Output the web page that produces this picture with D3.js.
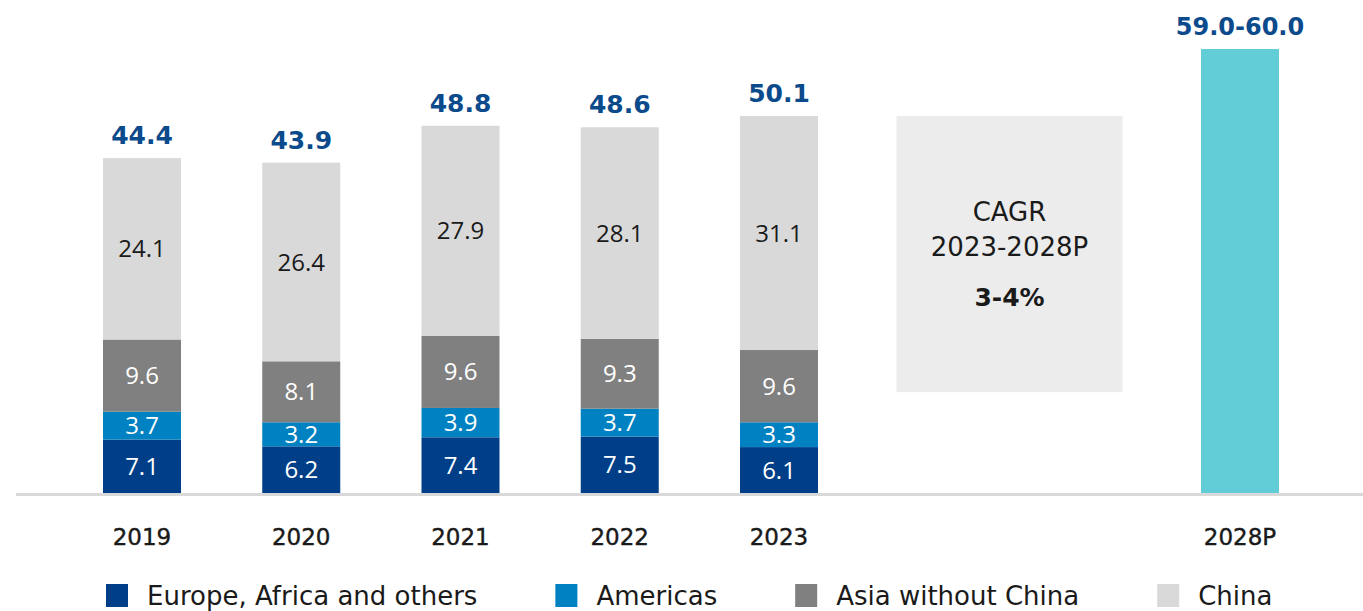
<!DOCTYPE html>
<html>
<head>
<meta charset="utf-8">
<script src="https://cdn.jsdelivr.net/npm/d3@7"></script>
<style>
  html, body { margin: 0; padding: 0; background: #ffffff; }
  svg { display: block; }
</style>
</head>
<body>
<svg id="chart" width="1363" height="611"></svg>
<script>
// ---------------- DATA ----------------
const years = ["2019", "2020", "2021", "2022", "2023"];
const seriesNames = ["Europe, Africa and others", "Americas", "Asia without China", "China"];
const europe   = [7.1, 6.2, 7.4, 7.5, 6.1];
const americas = [3.7, 3.2, 3.9, 3.7, 3.3];
const asia     = [9.6, 8.1, 9.6, 9.3, 9.6];
const china    = [24.1, 26.4, 27.9, 28.1, 31.1];
const totals   = ["44.4", "43.9", "48.8", "48.6", "50.1"];
const forecastCategory = "2028P";
const forecastValue = 59.0;
const forecastLabel = "59.0-60.0";
const cagrLines = ["CAGR", "2023-2028P"];
const cagrValue = "3-4%";
const futureSlots = ["2023", "CAGR", "2028P"];

// ---------------- STYLE ----------------
const colors = ["#003F88", "#0081C1", "#808080", "#D9D9D9"];
const forecastColor = "#62CDD6";
const totalColor = "#0B4A8B";
const textDark = "#1A1A1A";
const boxColor = "#ECECEC";
const axisColor = "#D9D9D9";
const fontA = "'DejaVu Sans', sans-serif";
const fontB = "'Open Sans', sans-serif";

const svg = d3.select("#chart");
const W = 1363;
const baseline = 493;

const xHist = d3.scalePoint().domain(years).range([142, 779]);
const xFut = d3.scalePoint().domain(futureSlots).range([779, 1240]);
const x = k => (years.includes(k) ? xHist(k) : xFut(k));
const y = d3.scaleLinear().domain([0, 59]).range([baseline, 49]);
const barW = 78;

// stacked data
const table = years.map((yr, i) => ({
  year: yr,
  [seriesNames[0]]: europe[i],
  [seriesNames[1]]: americas[i],
  [seriesNames[2]]: asia[i],
  [seriesNames[3]]: china[i],
  total: totals[i]
}));
const stack = d3.stack().keys(seriesNames)(table);

// CAGR box (behind)
const boxCx = x("CAGR");
const boxW = 226;
svg.append("rect")
  .attr("x", boxCx - boxW / 2)
  .attr("y", y(50.1))
  .attr("width", boxW)
  .attr("height", y(13.4) - y(50.1))
  .attr("fill", boxColor);

svg.append("text").attr("x", boxCx).attr("y", 221).attr("text-anchor", "middle")
  .attr("font-family", fontA).attr("font-size", 26).attr("fill", textDark).text(cagrLines[0]);
svg.append("text").attr("x", boxCx).attr("y", 256).attr("text-anchor", "middle")
  .attr("font-family", fontA).attr("font-size", 26).attr("fill", textDark).text(cagrLines[1]);
svg.append("text").attr("x", boxCx).attr("y", 306).attr("text-anchor", "middle")
  .attr("font-family", fontA).attr("font-weight", "bold").attr("font-size", 25).attr("fill", textDark).text(cagrValue);

// stacked bars
stack.forEach((layer, li) => {
  const g = svg.append("g");
  g.selectAll("rect").data(layer).enter().append("rect")
    .attr("x", d => x(d.data.year) - barW / 2)
    .attr("y", d => y(d[1]))
    .attr("width", barW)
    .attr("height", d => y(d[0]) - y(d[1]))
    .attr("fill", colors[li]);
  g.selectAll("text").data(layer).enter().append("text")
    .attr("x", d => x(d.data.year))
    .attr("y", d => (y(d[0]) + y(d[1])) / 2)
    .attr("dy", "0.36em")
    .attr("text-anchor", "middle")
    .attr("font-family", fontB)
    .attr("font-size", 24)
    .attr("fill", li === 3 ? textDark : "#FFFFFF")
    .text(d => (d[1] - d[0]).toFixed(1));
});

// totals
svg.append("g").selectAll("text").data(table).enter().append("text")
  .attr("x", d => x(d.year))
  .attr("y", d => y(d3.sum(seriesNames, k => d[k])) - 14)
  .attr("text-anchor", "middle")
  .attr("font-family", fontA)
  .attr("font-weight", "bold")
  .attr("font-size", 25)
  .attr("fill", totalColor)
  .text(d => d.total);

// forecast bar
svg.append("rect")
  .attr("x", x(forecastCategory) - barW / 2)
  .attr("y", y(forecastValue))
  .attr("width", barW)
  .attr("height", baseline - y(forecastValue))
  .attr("fill", forecastColor);
svg.append("text")
  .attr("x", x(forecastCategory))
  .attr("y", y(forecastValue) - 14)
  .attr("text-anchor", "middle")
  .attr("font-family", fontA)
  .attr("font-weight", "bold")
  .attr("font-size", 24)
  .attr("fill", totalColor)
  .text(forecastLabel);

// axis line
svg.append("rect").attr("x", 16).attr("y", 493).attr("width", W - 16).attr("height", 3).attr("fill", axisColor);

// x labels
const xLabels = years.concat([forecastCategory]);
svg.append("g").selectAll("text").data(xLabels).enter().append("text")
  .attr("x", d => x(d))
  .attr("y", 545)
  .attr("text-anchor", "middle")
  .attr("font-family", fontA)
  .attr("font-size", 23)
  .attr("fill", textDark)
  .attr("stroke", textDark)
  .attr("stroke-width", 0.4)
  .text(d => d);

// legend
let lx = 106;
seriesNames.forEach((name, i) => {
  svg.append("rect").attr("x", lx).attr("y", 584).attr("width", 22).attr("height", 23).attr("fill", colors[i]);
  const t = svg.append("text").attr("x", lx + 41).attr("y", 605)
    .attr("font-family", fontA).attr("font-size", 26).attr("fill", textDark).text(name);
  lx = lx + 41 + t.node().getComputedTextLength() + 78;
});
</script>
</body>
</html>
